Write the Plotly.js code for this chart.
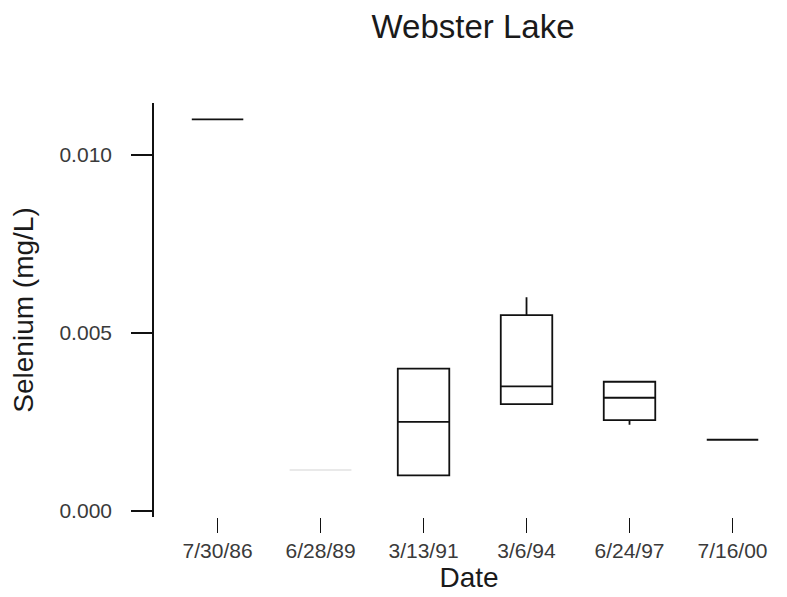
<!DOCTYPE html>
<html>
<head>
<meta charset="utf-8">
<script src="https://cdn.plot.ly/plotly-3.0.1.min.js"></script>
<style>html,body{margin:0;padding:0;background:#fff;}#chart{width:787px;height:597px;}</style>
</head>
<body>
<div id="chart"></div>
<script>
// Categories (sampling dates)
const dates = ["7/30/86", "6/28/89", "3/13/91", "3/6/94", "6/24/97", "7/16/00"];

// Box statistics for the clearly drawn boxes (mg/L)
const boxDates   = ["7/30/86", "3/13/91", "3/6/94", "6/24/97", "7/16/00"];
const lowerFence = [0.011, 0.0010, 0.0030, 0.00242, 0.0020];
const q1Values   = [0.011, 0.0010, 0.0030, 0.00255, 0.0020];
const medians    = [0.011, 0.0025, 0.0035, 0.00318, 0.0020];
const q3Values   = [0.011, 0.0040, 0.0055, 0.00363, 0.0020];
const upperFence = [0.011, 0.0040, 0.0060, 0.00363, 0.0020];

// Faintly drawn single-value sample
const faintDates = ["6/28/89"];
const faintValue = [0.00115];

const yTickVals  = [0, 0.005, 0.010];
const yTickText  = ["0.000", "0.005", "0.010"];

const traces = [
  {
    type: "box",
    x: boxDates,
    lowerfence: lowerFence,
    q1: q1Values,
    median: medians,
    q3: q3Values,
    upperfence: upperFence,
    width: 0.5,
    whiskerwidth: 0,
    line: {color: "#111", width: 1.8},
    fillcolor: "rgba(0,0,0,0)",
    boxpoints: false,
    hoverinfo: "skip",
    showlegend: false
  },
  {
    type: "box",
    x: faintDates,
    lowerfence: faintValue,
    q1: faintValue,
    median: faintValue,
    q3: faintValue,
    upperfence: faintValue,
    width: 0.6,
    whiskerwidth: 0,
    line: {color: "#e2e2e2", width: 1.5},
    fillcolor: "rgba(0,0,0,0)",
    boxpoints: false,
    hoverinfo: "skip",
    showlegend: false
  }
];

const layout = {
  width: 787,
  height: 597,
  paper_bgcolor: "#fff",
  plot_bgcolor: "#fff",
  margin: {l: 154, r: 3, t: 103, b: 80},
  font: {family: "Liberation Sans, Arial, sans-serif", color: "#222"},
  title: {
    text: "Webster Lake",
    font: {size: 33, color: "#1a1a1a"},
    x: 0.601, xanchor: "center", xref: "container",
    y: 0.955, yanchor: "middle"
  },
  xaxis: {
    type: "category",
    categoryorder: "array",
    categoryarray: dates,
    range: [-0.617, 5.5],
    showline: false,
    showgrid: false,
    zeroline: false,
    ticks: "outside",
    ticklen: 15,
    tickwidth: 1.6,
    tickcolor: "#111",
    tickfont: {size: 21, color: "#3a3a3a"},
    title: {text: "Date", font: {size: 28, color: "#1a1a1a"}, standoff: 2}
  },
  yaxis: {
    range: [-0.00017, 0.01146],
    tickvals: yTickVals,
    ticktext: yTickText,
    showline: true,
    linecolor: "#111",
    linewidth: 1.8,
    showgrid: false,
    zeroline: false,
    ticks: "outside",
    ticklen: 21,
    tickwidth: 1.8,
    tickcolor: "#111",
    ticklabelstandoff: 15,
    tickfont: {size: 21, color: "#3a3a3a"},
    title: {text: "Selenium (mg/L)", font: {size: 28, color: "#1a1a1a"}, standoff: 18}
  },
  showlegend: false
};

Plotly.newPlot("chart", traces, layout, {displayModeBar: false, staticPlot: true});
</script>
</body>
</html>
